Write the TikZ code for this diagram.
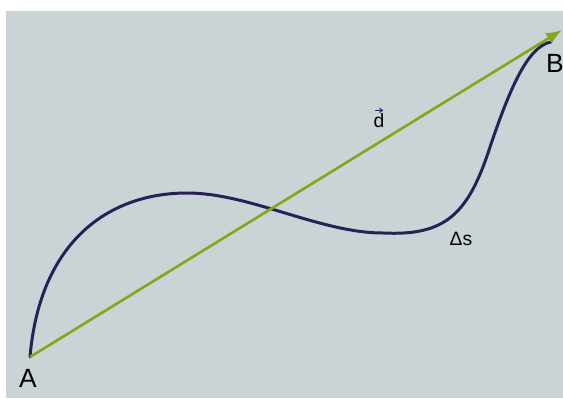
\documentclass[tikz,border=0pt]{standalone}
\usepackage{fontspec}
\setmainfont{Liberation Sans}
\usetikzlibrary{positioning,arrows.meta}

\definecolor{paper}{RGB}{202,211,214}
\definecolor{pathcol}{RGB}{42,32,88}
\definecolor{dispcol}{RGB}{132,168,26}

\begin{document}
\begin{tikzpicture}[
    x=0.02cm, y=-0.02cm,
    path/.style={draw=pathcol, line width=1.7pt, line cap=round},
    disp/.style={draw=dispcol, line width=1.5pt, -{Latex[length=9pt,width=7pt]}},
    ptlabel/.style={font=\fontsize{15}{18}\selectfont, inner sep=0pt},
    qlabel/.style={font=\fontsize{11}{13}\selectfont, inner sep=0pt}
]

% Background
\fill[white] (0,0) rectangle (563,398);
\fill[paper] (6,11) rectangle (563,398);
\useasboundingbox (0,0) rectangle (563,398);

% End points
\coordinate (A) at (30,357);
\coordinate (B) at (562,30);
\coordinate (Bc) at (551,42);

% Path travelled
\draw[path] (A) .. controls (40,240) and (110,193) .. (187,193)
    .. controls (250,193) and (320,233) .. (383,233)
    .. controls (445,236) and (468,215) .. (490,147)
    .. controls (510,88) and (528,46) .. (Bc);

% Displacement
\draw[disp] (A) -- (B);

% Labels
\node[ptlabel] (lA) at (28,378) {A};
\node[ptlabel] (lB) at (555,63) {B};
\node[qlabel] (ld) at (379,121) {d};
\draw[pathcol, line width=0.6pt, -{Straight Barb[length=1.6pt,width=2.4pt]}]
    ([xshift=-2.2pt,yshift=1.8pt]ld.north) -- ([xshift=2.4pt,yshift=1.8pt]ld.north);
\node[qlabel] (lds) at (461,239) {Δs};

\end{tikzpicture}
\end{document}
